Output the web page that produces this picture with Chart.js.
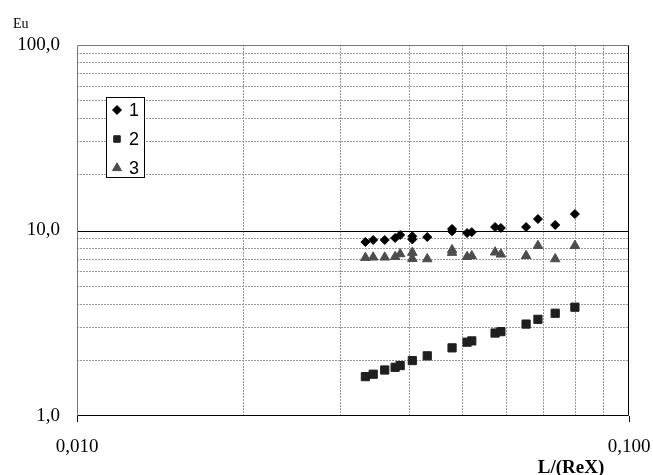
<!DOCTYPE html>
<html>
<head>
<meta charset="utf-8">
<script src="https://cdn.jsdelivr.net/npm/chart.js@4.4.1/dist/chart.umd.min.js"></script>
<style>
  html, body { margin: 0; padding: 0; background: #fff; }
</style>
</head>
<body>
<canvas id="grafik" width="653" height="475"></canvas>
<script>
// eksen değerleri
const xTicks = [0.01, 0.02, 0.03, 0.04, 0.05, 0.06, 0.07, 0.08, 0.09, 0.1];
const yTicks = [1, 2, 3, 4, 5, 6, 7, 8, 9, 10, 20, 30, 40, 50, 60, 70, 80, 90, 100];
const xEtiketler = [0.01, 0.1];
const yEtiketler = [1, 10, 100];

// seri 1 (elmas)
const seri1X = [0.0333, 0.0344, 0.0361, 0.0377, 0.0385, 0.0405, 0.0405, 0.0431, 0.0478, 0.0478,
                0.0509, 0.0519, 0.0572, 0.0586, 0.0651, 0.0684, 0.0735, 0.0798];
const seri1Y = [8.67, 8.89, 8.89, 9.11, 9.46, 9.3, 8.95, 9.22, 10.2, 9.9,
                9.69, 9.80, 10.44, 10.32, 10.44, 11.53, 10.71, 12.27];

// seri 2 (kare)
const seri2X = [0.0333, 0.0344, 0.0361, 0.0377, 0.0385, 0.0405, 0.0431, 0.0478,
                0.0509, 0.0519, 0.0572, 0.0586, 0.0651, 0.0684, 0.0735, 0.0798];
const seri2Y = [1.63, 1.68, 1.77, 1.83, 1.87, 1.99, 2.11, 2.33,
                2.50, 2.54, 2.80, 2.85, 3.13, 3.32, 3.58, 3.86];

// seri 3 (üçgen)
const seri3X = [0.0333, 0.0344, 0.0361, 0.0377, 0.0385, 0.0405, 0.0405, 0.0431, 0.0478, 0.0478,
                0.0509, 0.0519, 0.0572, 0.0586, 0.0651, 0.0684, 0.0735, 0.0798];
const seri3Y = [7.14, 7.17, 7.17, 7.22, 7.47, 7.6, 7.05, 7.02, 7.85, 7.6,
                7.22, 7.29, 7.63, 7.44, 7.31, 8.28, 7.02, 8.28];

const seriler = [
  { label: "1", x: seri1X, y: seri1Y, stil: "rectRot", r: 4.5, renk: "#000000", lr: 4.5 },
  { label: "2", x: seri2X, y: seri2Y, stil: "rect", r: 5.8, renk: "#1f1f1f", lr: 4.6 },
  { label: "3", x: seri3X, y: seri3Y, stil: "triangle", r: 5.5, renk: "#4d4d4d", lr: 5.2 }
];

const datasets = seriler.map(s => ({
  label: s.label,
  data: s.x.map((v, i) => ({ x: v, y: s.y[i] })),
  pointStyle: s.stil,
  pointRadius: s.r,
  pointBorderWidth: 1,
  backgroundColor: s.renk,
  borderColor: s.renk,
  showLine: false
}));

const virgul = (v, n) => v.toFixed(n).replace(".", ",");

// çerçeve, 10 çizgisi, lejant ve başlıklar
const cizimler = {
  id: "cizimler",
  beforeDatasetsDraw(chart) {
    const { ctx, chartArea: a, scales } = chart;
    const l = Math.round(a.left) + 0.5, r = Math.round(a.right) - 0.5;
    const t = Math.round(a.top) + 0.5, b = Math.round(a.bottom) - 0.5;
    const y10 = Math.round(scales.y.getPixelForValue(10)) + 0.5;
    ctx.save();
    ctx.lineWidth = 1;
    ctx.strokeStyle = "#000";
    ctx.beginPath();
    ctx.moveTo(l, y10); ctx.lineTo(r, y10);
    ctx.stroke();
    ctx.strokeStyle = "#777";
    ctx.beginPath();
    ctx.moveTo(l, b); ctx.lineTo(l, t); ctx.lineTo(r, t);
    ctx.stroke();
    ctx.strokeStyle = "#000";
    ctx.beginPath();
    ctx.moveTo(r, t); ctx.lineTo(r, b); ctx.lineTo(l, b);
    ctx.stroke();
    ctx.restore();
  },
  afterDraw(chart) {
    const ctx = chart.ctx;
    ctx.save();
    // lejant kutusu
    ctx.fillStyle = "#fff";
    ctx.fillRect(106, 97, 38, 80);
    ctx.strokeStyle = "#000";
    ctx.lineWidth = 1;
    ctx.strokeRect(106.5, 97.5, 38, 80);
    seriler.forEach((s, i) => {
      const y = 110 + 29 * i;
      ctx.fillStyle = s.renk;
      ctx.strokeStyle = s.renk;
      Chart.helpers.drawPoint(ctx, { pointStyle: s.stil, radius: s.lr, borderWidth: 1, rotation: 0 }, 117, y);
      ctx.fillStyle = "#000";
      ctx.font = "18px 'Liberation Sans', Arial, sans-serif";
      ctx.textAlign = "left";
      ctx.textBaseline = "middle";
      ctx.fillText(s.label, 129, y + 1);
    });
    // eksen başlıkları
    ctx.fillStyle = "#000";
    ctx.font = "14px 'Liberation Serif', 'Times New Roman', serif";
    ctx.textAlign = "left";
    ctx.textBaseline = "middle";
    ctx.fillText("Eu", 13, 24);
    ctx.font = "bold 19px 'Liberation Serif', 'Times New Roman', serif";
    ctx.textAlign = "center";
    ctx.fillText("L/(ReX)", 571, 468);
    ctx.restore();
  }
};

const yaziTipi = { family: "'Liberation Serif', 'Times New Roman', serif", size: 19 };

new Chart(document.getElementById("grafik"), {
  type: "scatter",
  data: { datasets },
  options: {
    responsive: false,
    animation: false,
    devicePixelRatio: 1,
    layout: { padding: { top: 45, right: 24, left: 0, bottom: 0 } },
    plugins: { legend: { display: false }, tooltip: { enabled: false } },
    scales: {
      x: {
        type: "logarithmic",
        min: 0.01,
        max: 0.1,
        afterBuildTicks: s => { s.ticks = xTicks.map(v => ({ value: v })); },
        afterFit: s => { s.height = 59; s.paddingLeft = 0; s.paddingRight = 0; },
        ticks: {
          autoSkip: false,
          maxRotation: 0,
          padding: 14,
          color: "#000",
          font: yaziTipi,
          callback: v => xEtiketler.includes(v) ? virgul(v, 3) : ""
        },
        grid: {
          color: c => (c.tick && xEtiketler.includes(c.tick.value)) ? "rgba(0,0,0,0)" : "#999",
          tickColor: c => (c.tick && xEtiketler.includes(c.tick.value)) ? "#000" : "rgba(0,0,0,0)",
          tickLength: 6,
          lineWidth: 1
        },
        border: { display: false, dash: [2, 1] }
      },
      y: {
        type: "logarithmic",
        min: 1,
        max: 100,
        afterBuildTicks: s => { s.ticks = yTicks.map(v => ({ value: v })); },
        afterFit: s => { s.width = 77; s.paddingTop = 0; s.paddingBottom = 0; },
        ticks: {
          autoSkip: false,
          padding: 17,
          color: "#000",
          font: yaziTipi,
          callback: v => yEtiketler.includes(v) ? virgul(v, 1) : ""
        },
        grid: {
          color: c => (c.tick && yEtiketler.includes(c.tick.value)) ? "rgba(0,0,0,0)" : "#999",
          drawTicks: false,
          lineWidth: 1
        },
        border: { display: false, dash: [2, 1] }
      }
    }
  },
  plugins: [cizimler]
});
</script>
</body>
</html>
